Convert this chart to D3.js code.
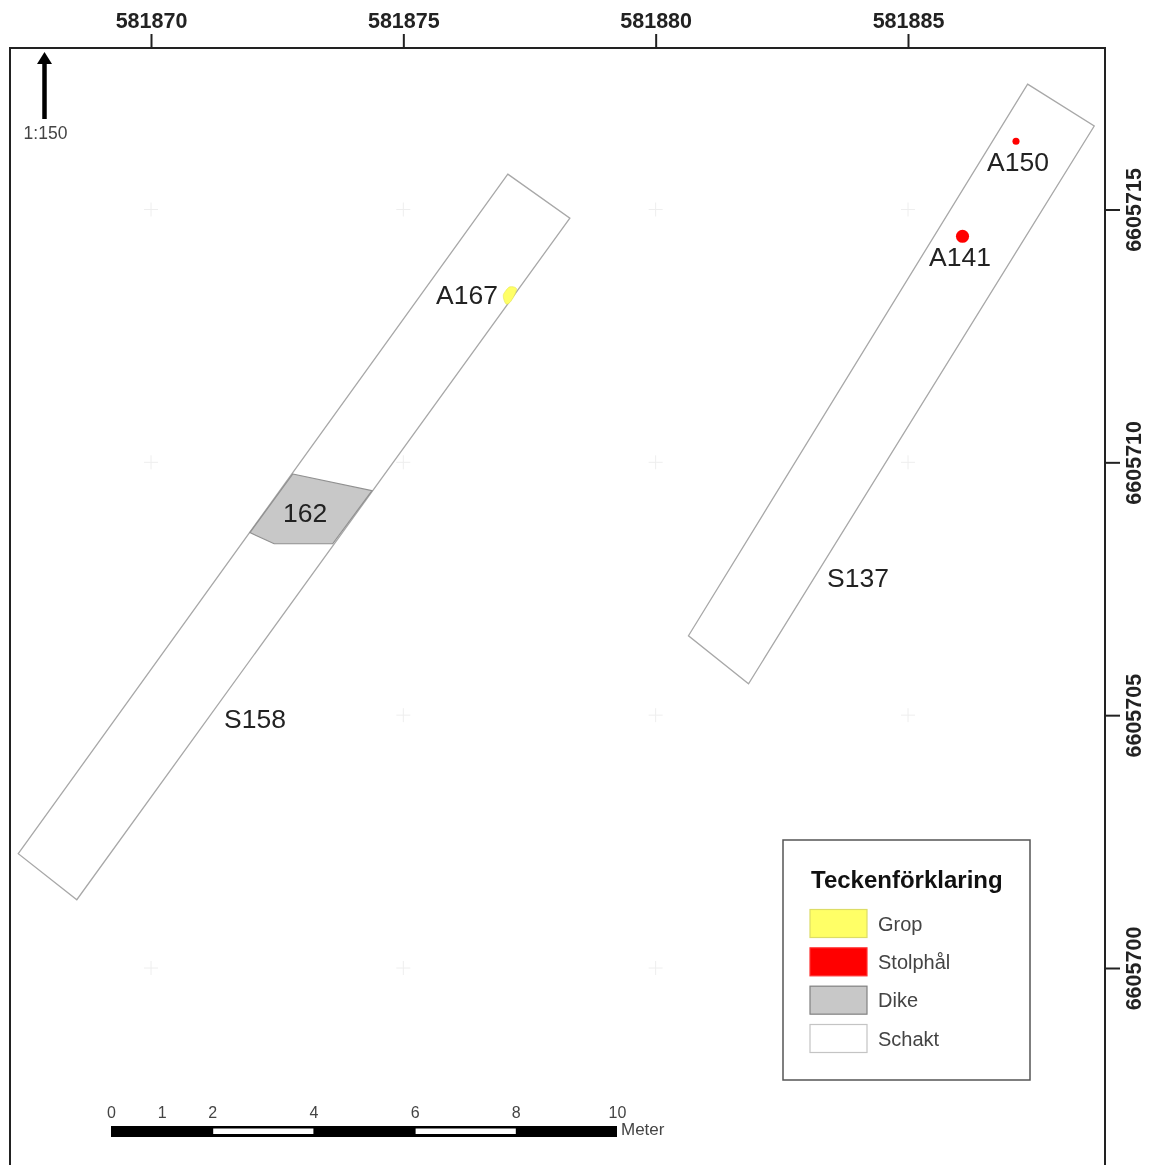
<!DOCTYPE html>
<html>
<head>
<meta charset="utf-8">
<script src="https://cdnjs.cloudflare.com/ajax/libs/d3/7.8.5/d3.min.js"></script>
<style>
  html, body { margin: 0; padding: 0; background: #fff; }
  svg { display: block; font-family: "Liberation Sans", Arial, sans-serif; filter: blur(0.55px); }
</style>
</head>
<body>
<svg id="map" width="1153" height="1165"></svg>
<script>
// Tick labels of the map grid (SWEREF coordinates, metres)
const eastTicks = [581870, 581875, 581880, 581885];
const northTicks = [6605715, 6605710, 6605705, 6605700];

// Trenches as [east, north]
const trenchS158 = [[581877.07, 6605715.70], [581878.30, 6605714.83], [581868.53, 6605701.35], [581867.37, 6605702.26]];
const trenchS137 = [[581887.37, 6605717.48], [581888.69, 6605716.65], [581881.84, 6605705.62], [581880.65, 6605706.57]];

// Ditch 162 and pit A167
const ditch162 = [[581872.81, 6605709.77], [581874.38, 6605709.44], [581873.60, 6605708.39], [581872.44, 6605708.39], [581871.96, 6605708.61]];
const pitA167 = [[581877.24, 6605713.44], [581877.11, 6605713.47], [581877.02, 6605713.38], [581876.98, 6605713.30], [581877.04, 6605713.13], [581877.11, 6605713.16]];

// Post holes: name, east, north, diameter in metres
const postHoleNames = ['A150', 'A141'];
const postHoleEast = [581887.14, 581886.08];
const postHoleNorth = [6605716.35, 6605714.47];
const postHoleDiameter = [0.14, 0.26];

// Legend and scale bar
const legendLabels = ['Grop', 'Stolphål', 'Dike', 'Schakt'];
const scaleBarTicks = [0, 1, 2, 4, 6, 8, 10];
const scaleBarWhite = [[2, 4], [6, 8]];

const svg = d3.select('#map');

// Map frame runs off the bottom of the page
const frame = { left: 10, right: 1105, top: 48, bottom: 1185 };

const x = d3.scaleLinear().domain([581870, 581885]).range([151, 908]);
const y = d3.scaleLinear().domain([6605715, 6605700]).range([209.5, 968]);
const toPath = d3.line().x(d => x(d[0])).y(d => y(d[1]));

// Faint grid crosses
const crossSize = 7;
const crosses = svg.append('g').attr('stroke', '#eeeeee').attr('stroke-width', 1);
eastTicks.forEach(e => northTicks.forEach(n => {
  crosses.append('line')
    .attr('x1', x(e) - crossSize).attr('x2', x(e) + crossSize)
    .attr('y1', y(n)).attr('y2', y(n));
  crosses.append('line')
    .attr('x1', x(e)).attr('x2', x(e))
    .attr('y1', y(n) - crossSize).attr('y2', y(n) + crossSize);
}));

// Trenches
svg.selectAll('.trench')
  .data([trenchS158, trenchS137])
  .enter()
  .append('path')
  .attr('class', 'trench')
  .attr('d', d => toPath(d) + 'Z')
  .attr('fill', '#fff')
  .attr('stroke', '#a8a8a8')
  .attr('stroke-width', 1.3);

// Ditch
svg.append('path')
  .attr('d', toPath(ditch162) + 'Z')
  .attr('fill', '#c8c8c8')
  .attr('stroke', '#909090')
  .attr('stroke-width', 1.2);

// Pit, rounded outline
svg.append('path')
  .attr('d', d3.line().x(d => x(d[0])).y(d => y(d[1])).curve(d3.curveCatmullRomClosed)(pitA167))
  .attr('fill', '#ffff66')
  .attr('stroke', '#e6e650')
  .attr('stroke-width', 0.6);

// Post holes
svg.selectAll('.hole')
  .data(postHoleNames)
  .enter()
  .append('circle')
  .attr('class', 'hole')
  .attr('cx', (d, i) => x(postHoleEast[i]))
  .attr('cy', (d, i) => y(postHoleNorth[i]))
  .attr('r', (d, i) => (x(postHoleDiameter[i]) - x(0)) / 2)
  .attr('fill', '#ff0000');

// Feature labels
const featureLabels = [
  { text: 'A167', x: 436, y: 304 },
  { text: '162', x: 283, y: 522 },
  { text: 'S158', x: 224, y: 728 },
  { text: 'S137', x: 827, y: 587 },
  { text: 'A150', x: 987, y: 171 },
  { text: 'A141', x: 929, y: 266 }
];
svg.selectAll('.feature-label')
  .data(featureLabels)
  .enter()
  .append('text')
  .attr('class', 'feature-label')
  .attr('x', d => d.x)
  .attr('y', d => d.y)
  .attr('fill', '#222')
  .style('font-size', '26.5px')
  .text(d => d.text);

// Frame
svg.append('rect')
  .attr('x', frame.left)
  .attr('y', frame.top)
  .attr('width', frame.right - frame.left)
  .attr('height', frame.bottom - frame.top)
  .attr('fill', 'none')
  .attr('stroke', '#222')
  .attr('stroke-width', 2);

// Top axis
const topAxis = svg.append('g')
  .attr('transform', `translate(0,${frame.top})`)
  .call(d3.axisTop(x).tickValues(eastTicks).tickSize(14).tickPadding(6).tickFormat(d3.format('d')));
topAxis.select('.domain').remove();
topAxis.selectAll('line').attr('stroke', '#222').attr('stroke-width', 2);
topAxis.selectAll('text')
  .attr('fill', '#222')
  .style('font-size', '21.5px')
  .style('font-weight', 'bold')
  .style('font-family', '"Liberation Sans", Arial, sans-serif');

// Right axis, labels turned a quarter
const rightAxis = svg.append('g')
  .attr('transform', `translate(${frame.right},0)`)
  .call(d3.axisRight(y).tickValues(northTicks).tickSize(15).tickFormat(d3.format('d')));
rightAxis.select('.domain').remove();
rightAxis.selectAll('line').attr('stroke', '#222').attr('stroke-width', 2);
rightAxis.selectAll('text')
  .attr('x', 0)
  .attr('dy', 0)
  .attr('transform', 'translate(36,0) rotate(-90)')
  .attr('text-anchor', 'middle')
  .attr('fill', '#222')
  .style('font-size', '21.5px')
  .style('font-weight', 'bold')
  .style('font-family', '"Liberation Sans", Arial, sans-serif');

// North arrow
const arrow = svg.append('g');
arrow.append('line')
  .attr('x1', 44.5).attr('x2', 44.5).attr('y1', 62).attr('y2', 119)
  .attr('stroke', '#000').attr('stroke-width', 4.5);
arrow.append('path')
  .attr('d', 'M44.5,52L52,64L37,64Z')
  .attr('fill', '#000');
arrow.append('text')
  .attr('x', 45.5).attr('y', 139)
  .attr('text-anchor', 'middle')
  .attr('fill', '#444')
  .style('font-size', '17.5px')
  .text('1:150');

// Legend
const legend = svg.append('g');
legend.append('rect')
  .attr('x', 783).attr('y', 840)
  .attr('width', 247).attr('height', 240)
  .attr('fill', '#fff')
  .attr('stroke', '#555')
  .attr('stroke-width', 1.5);
legend.append('text')
  .attr('x', 811).attr('y', 888)
  .attr('fill', '#111')
  .style('font-size', '24px')
  .style('font-weight', 'bold')
  .text('Teckenförklaring');

const swatchFill = d3.scaleOrdinal().domain(legendLabels).range(['#ffff66', '#ff0000', '#c8c8c8', '#ffffff']);
const swatchStroke = d3.scaleOrdinal().domain(legendLabels).range(['#dddd66', '#ff3030', '#808080', '#c4c4c4']);
const legendY = d3.scalePoint().domain(legendLabels).range([909.5, 1024.5]);

legend.selectAll('.swatch')
  .data(legendLabels)
  .enter()
  .append('rect')
  .attr('class', 'swatch')
  .attr('x', 810)
  .attr('y', d => legendY(d))
  .attr('width', 57)
  .attr('height', 28)
  .attr('fill', d => swatchFill(d))
  .attr('stroke', d => swatchStroke(d))
  .attr('stroke-width', 1.2);

legend.selectAll('.legend-label')
  .data(legendLabels)
  .enter()
  .append('text')
  .attr('class', 'legend-label')
  .attr('x', 878)
  .attr('y', d => legendY(d) + 21)
  .attr('fill', '#444')
  .style('font-size', '20px')
  .text(d => d);

// Scale bar
const scaleBar = d3.scaleLinear().domain([0, 10]).range([111, 617]);
const barGroup = svg.append('g');
barGroup.append('rect')
  .attr('x', scaleBar(0)).attr('y', 1126)
  .attr('width', scaleBar(10) - scaleBar(0)).attr('height', 11)
  .attr('fill', '#000');
barGroup.selectAll('.bar-white')
  .data(scaleBarWhite)
  .enter()
  .append('rect')
  .attr('class', 'bar-white')
  .attr('x', d => scaleBar(d[0]) + 1)
  .attr('y', 1128.5)
  .attr('width', d => scaleBar(d[1]) - scaleBar(d[0]) - 1)
  .attr('height', 5.5)
  .attr('fill', '#fff');

const barAxis = barGroup.append('g')
  .attr('transform', 'translate(0,1122)')
  .call(d3.axisTop(scaleBar).tickValues(scaleBarTicks).tickSize(0).tickPadding(4).tickFormat(d3.format('d')));
barAxis.select('.domain').remove();
barAxis.selectAll('text')
  .attr('fill', '#444')
  .style('font-size', '16px')
  .style('font-family', '"Liberation Sans", Arial, sans-serif');

barGroup.append('text')
  .attr('x', 621).attr('y', 1135)
  .attr('fill', '#444')
  .style('font-size', '17px')
  .text('Meter');
</script>
</body>
</html>
